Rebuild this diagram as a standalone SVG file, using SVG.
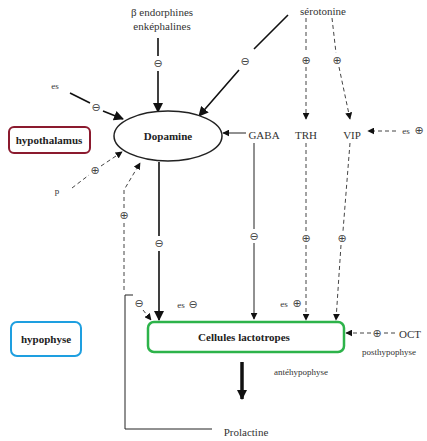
<svg xmlns="http://www.w3.org/2000/svg" width="427" height="441" viewBox="0 0 427 441">
<defs>
<marker id="ah" viewBox="0 0 10 10" refX="9" refY="5" markerWidth="7" markerHeight="7" markerUnits="userSpaceOnUse" orient="auto"><path d="M0,0 L10,5 L0,10 z" fill="#111"/></marker>
<marker id="ahb" viewBox="0 0 10 10" refX="9" refY="5" markerWidth="10" markerHeight="10" markerUnits="userSpaceOnUse" orient="auto"><path d="M0,0 L10,5 L0,10 z" fill="#111"/></marker>
</defs>
<style>
text{font-family:"Liberation Serif","DejaVu Serif",serif;fill:#333;text-anchor:middle;dominant-baseline:central}
.lbl{font-size:11px}
.sm{font-size:9px}
.b{font-weight:bold;font-size:11px;fill:#222}
.sym{font-family:"DejaVu Sans",sans-serif;font-size:11px;fill:#444}
.s{stroke:#222;fill:none;stroke-width:1}
.t{stroke:#111;fill:none;stroke-width:1.6}
.d{stroke:#444;fill:none;stroke-width:1;stroke-dasharray:4,3}
</style>
<g id="connectors">
<path class="t" d="M158,38 V56 M158,71 V112" marker-end="url(#ahb)"/>
<path class="t" d="M288,15 L254,49 M239,70 L199,116" marker-end="url(#ahb)"/>
<path class="d" d="M306,18 V53 M306,67 V119" marker-end="url(#ah)"/>
<path class="d" d="M332,18 L336,53 M339,67 L350,119" marker-end="url(#ah)"/>
<path class="d" d="M396,131 H368" marker-end="url(#ah)"/>
<path class="s" d="M246,133 H223" marker-end="url(#ah)"/>
<path class="t" d="M70,93 L90,103 M103,111 L123,119" marker-end="url(#ahb)"/>
<path class="d" d="M72,188 L89,175 M101,166 L122,152" marker-end="url(#ah)"/>
<path class="d" d="M124,290 V223 M124,208 V190 L140,163" marker-end="url(#ah)"/>
<path class="t" d="M159,162 V236 M159,251 V320" marker-end="url(#ahb)"/>
<path class="d" d="M143,310 L151,320" marker-end="url(#ah)"/>
<path class="s" d="M254,143 V229 M254,243 V319" marker-end="url(#ah)"/>
<path class="d" d="M306,143 V231 M306,245 V320" marker-end="url(#ah)"/>
<path class="d" d="M350,143 L343,231 M341,245 L336,320" marker-end="url(#ah)"/>
<path class="d" d="M371,333 H346" marker-end="url(#ah)"/>
<path class="d" d="M384,333 H396"/>
<path d="M242,362 V399" stroke="#111" stroke-width="3.5" fill="none" marker-end="url(#ahb)"/>
<path class="s" d="M133,295 H125 V429 H212"/>
</g>
<g id="beta"><text class="lbl" x="162" y="12">β endorphines</text><text class="lbl" x="162" y="26">enképhalines</text><text class="sym" x="158" y="63">⊖</text></g>
<g id="serotonine"><text class="lbl" x="323" y="11">sérotonine</text><text class="sym" x="245" y="61">⊖</text><text class="sym" x="306" y="60">⊕</text><text class="sym" x="337" y="60">⊕</text></g>
<g id="dopamine"><ellipse cx="168" cy="136" rx="54" ry="25" fill="#fff" stroke="#222" stroke-width="1.5"/><text class="b" x="168" y="136">Dopamine</text></g>
<g id="gaba"><text class="lbl" x="264" y="135">GABA</text><text class="sym" x="254" y="236">⊖</text></g>
<g id="trh"><text class="lbl" x="306" y="135">TRH</text><text class="sym" x="306" y="238">⊕</text></g>
<g id="vip"><text class="lbl" x="352" y="135">VIP</text><text class="sym" x="342" y="238">⊕</text></g>
<g id="es-vip"><text class="sm" x="406" y="131">es</text><text class="sym" x="419" y="130">⊕</text></g>
<g id="es-top"><text class="sm" x="55" y="86">es</text><text class="sym" x="96" y="107">⊖</text></g>
<g id="p"><text class="sm" x="57" y="191">p</text><text class="sym" x="95" y="170">⊕</text></g>
<g id="hypothalamus"><rect x="9" y="127" width="81" height="26" rx="5" fill="#fff" stroke="#8b1a2e" stroke-width="2"/><text class="b" x="49" y="140">hypothalamus</text></g>
<g id="hypophyse"><rect x="11" y="322" width="70" height="34" rx="6" fill="#fff" stroke="#1e9fe0" stroke-width="2"/><text class="b" x="46" y="339">hypophyse</text></g>
<g id="feedback"><text class="sym" x="124" y="215">⊕</text><text class="sym" x="159" y="243">⊖</text><text class="sym" x="139" y="303">⊖</text><text class="sm" x="181" y="305">es</text><text class="sym" x="193" y="304">⊖</text><text class="sm" x="284" y="304">es</text><text class="sym" x="297" y="303">⊕</text></g>
<g id="cellules"><rect x="148" y="322" width="196" height="30" rx="6" fill="#fff" stroke="#2db34a" stroke-width="2.5"/><text class="b" x="244" y="337">Cellules lactotropes</text></g>
<g id="oct"><text class="sym" x="377" y="333">⊕</text><text class="lbl" x="410" y="334">OCT</text><text class="sm" x="389" y="352">posthypophyse</text></g>
<g id="ante"><text class="sm" x="301" y="372">antéhypophyse</text></g>
<g id="prolactine"><text class="lbl" x="246" y="432">Prolactine</text></g>
</svg>
